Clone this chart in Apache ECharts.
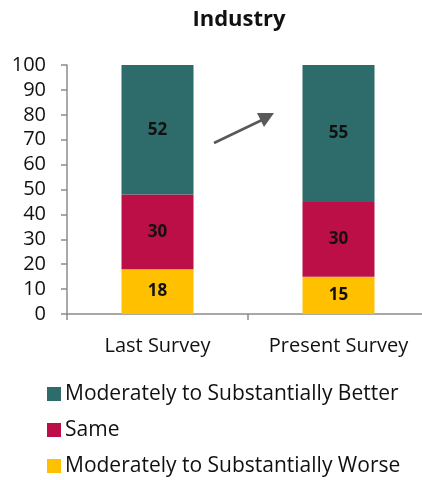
<!DOCTYPE html>
<html lang="en">
<head>
    <meta charset="UTF-8">
    <title>Industry</title>
    <script src="https://cdn.jsdelivr.net/npm/echarts@6/dist/echarts.min.js"></script>
    <style>
        html, body { margin: 0; padding: 0; background: #fff; }
    </style>
</head>
<body>
<div id="chart" style="width: 422px; height: 480px;"></div>
<script>
    var categories = ['Last Survey', 'Present Survey'];
    var worse = [18, 15];
    var same = [30, 30];
    var better = [52, 55];
    var yTicks = [0, 10, 20, 30, 40, 50, 60, 70, 80, 90, 100];

    var myChart = echarts.init(document.getElementById('chart'));

    var labelStyle = {
        show: true,
        position: 'inside',
        color: '#111',
        fontWeight: 'bold',
        fontSize: 17,
        fontFamily: 'Open Sans'
    };

    function barSeries(name, data, color) {
        return {
            name: name,
            type: 'bar',
            stack: 'total',
            barWidth: 72,
            data: data,
            itemStyle: { color: color },
            label: labelStyle,
            emphasis: { disabled: true }
        };
    }

    var option = {
        animation: false,
        title: {
            text: 'Industry',
            left: 234,
            textAlign: 'center',
            top: 4,
            textStyle: { fontSize: 22, fontWeight: 'bold', color: '#111', fontFamily: 'Open Sans' }
        },
        grid: { left: 67, width: 362, top: 65, bottom: 166, outerBoundsMode: 'none', containLabel: false },
        legend: {
            orient: 'vertical',
            left: 47,
            top: 383,
            height: 97,
            padding: 0,
            itemWidth: 14,
            itemHeight: 14,
            itemGap: 14,
            icon: 'rect',
            data: ['Moderately to Substantially Better', 'Same', 'Moderately to Substantially Worse'],
            textStyle: { fontSize: 21, lineHeight: 22, color: '#111', fontFamily: 'Open Sans', padding: [0, 0, 0, -1] }
        },
        xAxis: {
            type: 'category',
            data: categories,
            axisLine: { lineStyle: { color: '#8c8c8c', width: 1.5 } },
            axisTick: { show: true, length: 6, lineStyle: { color: '#8c8c8c', width: 1.5 } },
            axisLabel: { interval: 0, fontSize: 20, color: '#111', fontFamily: 'Open Sans', margin: 22 }
        },
        yAxis: {
            type: 'value',
            min: yTicks[0],
            max: yTicks[yTicks.length - 1],
            interval: 10,
            axisLine: { show: true, lineStyle: { color: '#8c8c8c', width: 1.5 } },
            axisTick: { show: true, length: 6, lineStyle: { color: '#8c8c8c', width: 1.5 } },
            splitLine: { show: false },
            axisLabel: { fontSize: 20, color: '#111', fontFamily: 'Open Sans', margin: 21 }
        },
        series: [
            barSeries('Moderately to Substantially Worse', worse, '#FFC000'),
            barSeries('Same', same, '#BC0F47'),
            barSeries('Moderately to Substantially Better', better, '#2E6B6B')
        ],
        graphic: [
            {
                type: 'line',
                shape: { x1: 214, y1: 143, x2: 262, y2: 120 },
                style: { stroke: '#595959', lineWidth: 2.5 }
            },
            {
                type: 'polygon',
                shape: { points: [[257, 113], [274, 113], [264, 127]] },
                style: { fill: '#595959' }
            }
        ]
    };
    myChart.setOption(option);
</script>
</body>
</html>
